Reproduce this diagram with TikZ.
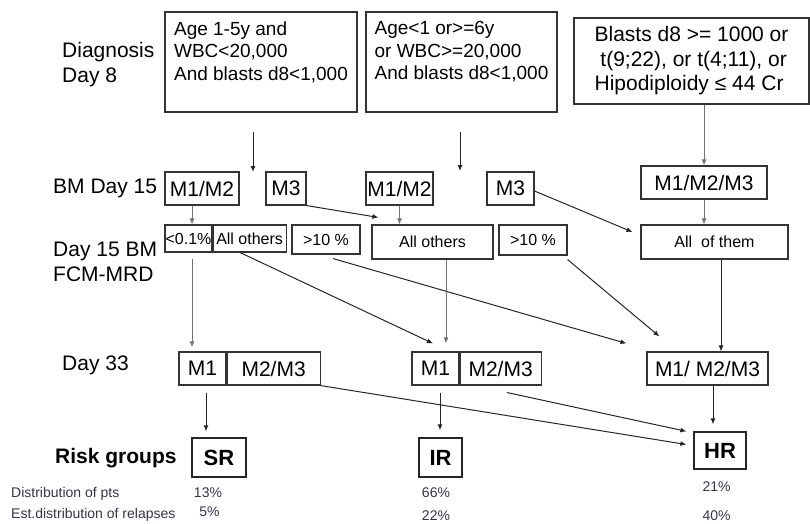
\documentclass[tikz,border=0pt]{standalone}
\usepackage{fontspec}
\setmainfont{Liberation Sans}
\usetikzlibrary{positioning, arrows.meta, calc}

\definecolor{linegray}{RGB}{115,115,115}
\definecolor{smalltxt}{RGB}{55,50,75}

\begin{document}
\begin{tikzpicture}[
        x=1pt, y=-1pt,
        critbox/.style={
            draw=black!80, line width=1.1pt, inner sep=0pt,
            font=\fontsize{19}{22.5}\selectfont
        },
        mbox/.style={
            draw=black!80, line width=1.1pt, inner sep=0pt,
            minimum height=33pt, font=\fontsize{21}{24}\selectfont
        },
        mrdbox/.style={
            draw=black!80, line width=1.1pt, inner sep=0pt,
            font=\fontsize{16}{19}\selectfont
        },
        riskbox/.style={
            draw=black!85, line width=1.3pt, inner sep=0pt,
            minimum height=39pt, font=\fontsize{22}{26}\selectfont\bfseries
        },
        rowlbl/.style={inner sep=0pt, align=left, font=\fontsize{21}{25}\selectfont},
        smalllbl/.style={inner sep=0pt, text=smalltxt, font=\fontsize{14}{16}\selectfont},
        arr/.style={-{Latex[length=6pt, width=5pt]}, line width=1pt, draw=black!85},
        garr/.style={arr, draw=linegray}
    ]

    \useasboundingbox (0,0) rectangle (810,523);

    % Row labels
    \node[rowlbl, anchor=west] (lblDiag) at (62,64.8) {Diagnosis\\Day 8};
    \node[rowlbl, anchor=base west] (lblBM) at (53,193) {BM Day 15};
    \node[rowlbl, anchor=west] (lblMRD) at (53,262.3) {Day 15 BM\\FCM-MRD};
    \node[rowlbl, anchor=base west] (lbl33) at (62,370) {Day 33};
    \node[rowlbl, anchor=base west, font=\fontsize{21}{25}\selectfont\bfseries] (lblRisk) at (55,463) {Risk groups};

    % Diagnosis criteria
    \node[critbox, minimum width=192pt, minimum height=100pt,
          align=left] (diagA) at (261,62)
        {Age 1-5y and\\WBC<20,000\\And blasts d8<1,000\\\mbox{}};
    \node[critbox, minimum width=191pt, minimum height=100pt,
          align=left] (diagB) at (461.5,62)
        {Age<1 or>=6y\\or WBC>=20,000\\And blasts d8<1,000\\\mbox{}};
    \node[critbox, minimum width=235pt, minimum height=86pt, align=left,
          font=\fontsize{21}{24.5}\selectfont] (diagC) at (691.5,61)
        {Blasts d8 >= 1000 or\\\ t(9;22), or t(4;11), or\\Hipodiploidy ≤ 44 Cr};

    % BM day 15
    \node[mbox, minimum width=74pt] (mA) at (202,188.5) {M1/M2};
    \node[mbox, minimum width=40pt] (m3A) at (286,188.5) {M3};
    \node[mbox, minimum width=67pt] (mB) at (399.5,188.5) {M1/M2};
    \node[mbox, minimum width=47pt] (m3B) at (510.5,188.5) {M3};
    \node[mbox, minimum width=126pt] (mC) at (704,182.5) {M1/M2/M3};

    % Day 15 MRD
    \node[mrdbox, minimum width=47pt, minimum height=27pt] (lowA) at (188.5,238.5) {<0.1\%};
    \node[mrdbox, minimum width=73pt, minimum height=27pt, right=0pt of lowA] (othA) {All others};
    \node[mrdbox, minimum width=68pt, minimum height=29pt] (hiA) at (326,239.5) {>10 \%};
    \node[mrdbox, minimum width=121pt, minimum height=34pt] (othB) at (432.5,242) {All others};
    \node[mrdbox, minimum width=68pt, minimum height=30pt] (hiB) at (533,240) {>10 \%};
    \node[mrdbox, minimum width=147pt, minimum height=34pt] (allC) at (714.5,242) {All~ of them};

    % Day 33
    \node[mbox, minimum width=47pt] (d33m1A) at (202.5,368.5) {M1};
    \node[mbox, minimum width=93pt, right=0pt of d33m1A] (d33mA) {M2/M3};
    \node[mbox, minimum width=47pt] (d33m1B) at (435.5,368.5) {M1};
    \node[mbox, minimum width=81pt, right=0pt of d33m1B] (d33mB) {M2/M3};
    \node[mbox, minimum width=121pt] (d33C) at (707.5,368.5) {M1/ M2/M3};

    % Risk groups
    \node[riskbox, minimum width=54pt] (sr) at (219,457.5) {SR};
    \node[riskbox, minimum width=43pt] (ir) at (440.5,457.5) {IR};
    \node[riskbox, minimum width=52pt, minimum height=37pt] (hr) at (720,450.5) {HR};

    % Distributions
    \node[smalllbl, anchor=base west] (distPts) at (11,497) {Distribution of pts};
    \node[smalllbl, anchor=base west] (distRel) at (11,518.5) {Est.distribution of relapses};
    \node[smalllbl, anchor=base] (srPts) at (208,497) {13\%};
    \node[smalllbl, anchor=base] (srRel) at (209.5,516) {5\%};
    \node[smalllbl, anchor=base] (irPts) at (436,497) {66\%};
    \node[smalllbl, anchor=base] (irRel) at (436,520) {22\%};
    \node[smalllbl, anchor=base] (hrPts) at (716.5,491) {21\%};
    \node[smalllbl, anchor=base] (hrRel) at (716.5,520) {40\%};

    % free arrow ends
    \coordinate (inA) at (253,132);
    \coordinate (outA) at (253,172);
    \coordinate (inB) at (460,132);
    \coordinate (outB) at (460,171);
    \coordinate (toOthB) at ($(othB.north west)+(7,-7)$);
    \coordinate (toAllC) at ($(allC.west)+(-8,-10)$);
    \coordinate (toM1B) at ($(d33m1B.north)+(-2.5,-8)$);
    \coordinate (toD33C1) at ($(d33C.north west)+(-20,-8)$);
    \coordinate (toD33C2) at ($(d33C.north west)+(13,-15)$);
    \coordinate (toHR1) at ($(hr.west)+(-7,-6)$);
    \coordinate (toHR2) at ($(hr.north west)+(-7,0)$);

    % Diagnosis -> day 15
    \draw[arr] (inA) -- (outA);
    \draw[arr] (inB) -- (outB);
    \draw[garr] (diagC.south -| mC.north) -- (mC.north);

    % day 15 -> MRD
    \draw[garr] ([xshift=3.5pt]mA.south -| lowA.north) -- ([xshift=3.5pt]lowA.north);
    \draw[garr] (mB.south) -- (mB.south |- othB.north);
    \draw[arr] (m3A.south east) -- (toOthB);
    \draw[arr] ([yshift=-2.5pt]m3B.east) -- (toAllC);
    \draw[garr] (mC.south) -- (mC.south |- allC.north);

    % MRD -> day 33
    \draw[garr, shorten <=6pt, shorten >=4pt] ([xshift=3.5pt]lowA.south) -- ([xshift=3.5pt]lowA.south |- d33m1A.north);
    \draw[arr] ([xshift=-9.5pt]othA.south) -- (toM1B);
    \draw[arr] ([xshift=7pt, yshift=-4pt]hiA.south) -- (toD33C1);
    \draw[garr, shorten >=8pt] ([xshift=13.5pt]othB.south) -- ([xshift=13.5pt]othB.south |- d33m1B.north);
    \draw[arr] ([yshift=-4pt]hiB.south east) -- (toD33C2);
    \draw[arr] ([xshift=6.5pt]allC.south) -- ([xshift=6.5pt]allC.south |- d33C.north);

    % day 33 -> risk groups
    \draw[arr, shorten <=7pt, shorten >=6pt] ([xshift=3.5pt]d33m1A.south) -- ([xshift=3.5pt]d33m1A.south |- sr.north);
    \draw[arr] (d33mA.south east) -- (toHR1);
    \draw[arr, shorten <=7pt, shorten >=7pt] ([xshift=4.5pt]d33m1B.south) -- ([xshift=4.5pt]d33m1B.south |- ir.north);
    \draw[arr] ([xshift=6.5pt, yshift=-7pt]d33mB.south) -- (toHR2);
    \draw[arr, shorten >=7pt] ([xshift=5.5pt]d33C.south) -- ([xshift=5.5pt]d33C.south |- hr.north);

\end{tikzpicture}
\end{document}
